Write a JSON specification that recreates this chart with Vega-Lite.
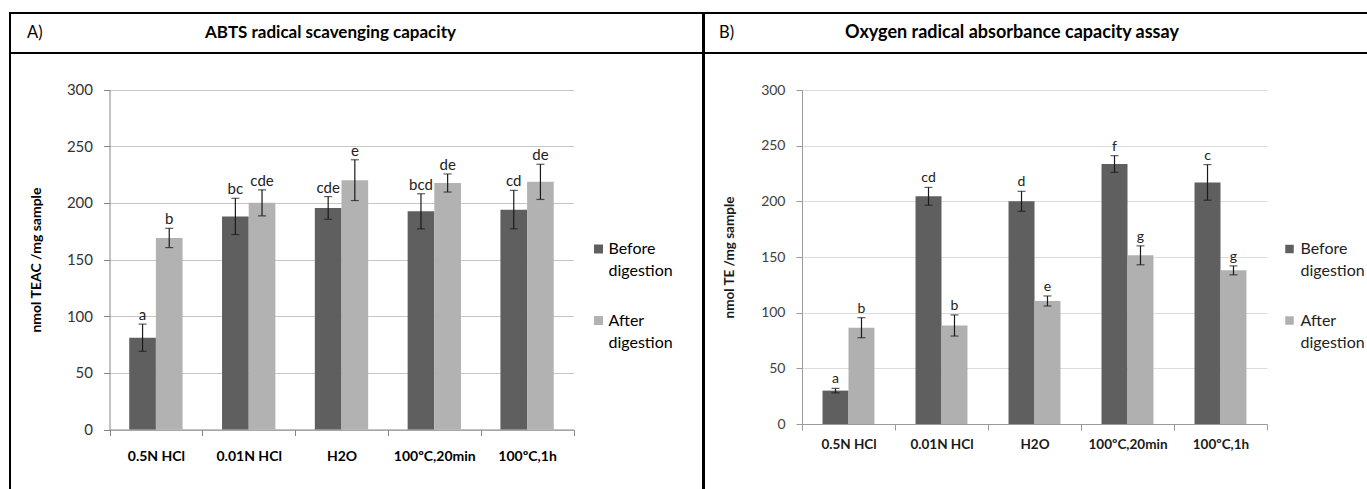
{
  "$schema": "https://vega.github.io/schema/vega-lite/v6.json",
  "padding": {"left": 9, "top": 12, "right": 0, "bottom": 0},
  "config": {
    "font": "Lato",
    "view": {"stroke": "#000000", "strokeWidth": 2},
    "axis": {"labelFont": "Lato", "titleFont": "Lato"}
  },
  "datasets": {
    "A": [
      {"cat": "0.5N HCl", "group": "Before digestion", "value": 81, "lo": 69, "hi": 93, "label": "a"},
      {"cat": "0.5N HCl", "group": "After digestion", "value": 169, "lo": 160.5, "hi": 177.5, "label": "b"},
      {"cat": "0.01N HCl", "group": "Before digestion", "value": 188, "lo": 172, "hi": 204, "label": "bc"},
      {"cat": "0.01N HCl", "group": "After digestion", "value": 200, "lo": 188.5, "hi": 211.5, "label": "cde"},
      {"cat": "H2O", "group": "Before digestion", "value": 195.5, "lo": 185.5, "hi": 205.5, "label": "cde"},
      {"cat": "H2O", "group": "After digestion", "value": 220, "lo": 202, "hi": 238, "label": "e"},
      {"cat": "100ºC,20min", "group": "Before digestion", "value": 192.5, "lo": 177, "hi": 208, "label": "bcd"},
      {"cat": "100ºC,20min", "group": "After digestion", "value": 217.5, "lo": 209.5, "hi": 225.5, "label": "de"},
      {"cat": "100ºC,1h", "group": "Before digestion", "value": 194, "lo": 177, "hi": 211, "label": "cd"},
      {"cat": "100ºC,1h", "group": "After digestion", "value": 218.5, "lo": 203, "hi": 234, "label": "de"}
    ],
    "B": [
      {"cat": "0.5N HCl", "group": "Before digestion", "value": 30, "lo": 28, "hi": 32, "label": "a"},
      {"cat": "0.5N HCl", "group": "After digestion", "value": 86.5, "lo": 77.5, "hi": 95.5, "label": "b"},
      {"cat": "0.01N HCl", "group": "Before digestion", "value": 204.5, "lo": 196.5, "hi": 212.5, "label": "cd"},
      {"cat": "0.01N HCl", "group": "After digestion", "value": 88.5, "lo": 79, "hi": 98, "label": "b"},
      {"cat": "H2O", "group": "Before digestion", "value": 200, "lo": 191, "hi": 209, "label": "d"},
      {"cat": "H2O", "group": "After digestion", "value": 110.5, "lo": 106, "hi": 115, "label": "e"},
      {"cat": "100ºC,20min", "group": "Before digestion", "value": 233.5, "lo": 226, "hi": 241, "label": "f"},
      {"cat": "100ºC,20min", "group": "After digestion", "value": 151.5, "lo": 143, "hi": 160, "label": "g"},
      {"cat": "100ºC,1h", "group": "Before digestion", "value": 217, "lo": 201, "hi": 233, "label": "c"},
      {"cat": "100ºC,1h", "group": "After digestion", "value": 138, "lo": 134, "hi": 142, "label": "g"}
    ]
  },
  "spacing": -2,
  "resolve": {
    "scale": {"color": "independent", "x": "independent", "y": "independent", "xOffset": "independent"},
    "legend": {"color": "independent"},
    "axis": {"x": "independent", "y": "independent"}
  },
  "hconcat": [
    {
      "spacing": 0,
      "bounds": "flush",
      "vconcat": [
        {
          "width": 693,
          "height": 40,
          "view": {"stroke": "#000000", "strokeWidth": 2},
          "layer": [
            {
              "data": {"values": [{"t": "ABTS radical scavenging capacity"}]},
              "mark": {"type": "text", "fontSize": 17, "fontWeight": "bold", "dx": -26, "color": "#000000"},
              "encoding": {
                "x": {"field": "t", "type": "nominal", "axis": null},
                "y": {"field": "t", "type": "nominal", "axis": null},
                "text": {"field": "t", "type": "nominal"}
              }
            },
            {
              "data": {"values": [{"t": "A)"}]},
              "mark": {"type": "text", "fontSize": 16.5, "fontWeight": "normal", "align": "left", "baseline": "middle", "dx": -329.5, "color": "#000000"},
              "encoding": {"text": {"field": "t", "type": "nominal"}}
            }
          ]
        },
        {
          "width": 693,
          "height": 460,
          "data": {"name": "A"},
          "encoding": {
            "x": {
              "field": "cat", "type": "nominal", "sort": null,
              "scale": {"range": [99.5, 563.5], "paddingInner": 0, "paddingOuter": 0},
              "axis": {"title": null, "offset": -83.5, "labelAngle": 0, "tickBand": "extent", "domainColor": "#868686", "tickColor": "#868686", "tickSize": 6, "labelPadding": 14, "labelFontSize": 14, "labelFontWeight": "bold", "labelColor": "#000000", "grid": false}
            },
            "xOffset": {"field": "group", "type": "nominal", "sort": ["Before digestion", "After digestion"], "scale": {"paddingInner": 0, "paddingOuter": 0.74}}
          },
          "layer": [
            {
              "mark": {"type": "bar"},
              "encoding": {
                "y": {
                  "field": "value", "type": "quantitative", "title": "nmol TEAC /mg sample",
                  "scale": {"domain": [0, 300], "range": [376.5, 36.5], "nice": false},
                  "axis": {"titleFontWeight": "bold", "titleFontSize": 14, "titleColor": "#000000", "titleX": -66, "offset": -99.5, "values": [0, 50, 100, 150, 200, 250, 300], "domainColor": "#868686", "tickColor": "#868686", "tickSize": 6, "labelPadding": 11, "labelFontSize": 15, "labelColor": "#333333", "gridColor": "#c6c6c6", "grid": true}
                },
                "color": {
                  "field": "group", "type": "nominal",
                  "scale": {"domain": ["Before digestion", "After digestion"], "range": ["#5f5f5f", "#b2b2b2"]},
                  "legend": {"title": null, "orient": "none", "legendX": 580.5, "legendY": 228, "symbolType": "square", "symbolSize": 81, "symbolStrokeWidth": 0, "labelFontSize": 16, "labelFontWeight": "normal", "labelColor": "#000000", "labelOffset": 2, "labelExpr": "split(datum.label, ' ')", "rowPadding": 33.5, "labelBaseline": "middle", "padding": 0, "labelLimit": 200, "encode": {"labels": {"update": {"lineHeight": {"value": 22}}}}}
                }
              }
            },
            {
              "mark": {"type": "rule", "color": "#1a1a1a", "strokeWidth": 1.2},
              "encoding": {"y": {"field": "lo", "type": "quantitative", "title": "nmol TEAC /mg sample"}, "y2": {"field": "hi"}}
            },
            {
              "mark": {"type": "tick", "orient": "horizontal", "size": 8, "thickness": 1.2, "color": "#1a1a1a"},
              "encoding": {"y": {"field": "lo", "type": "quantitative", "title": "nmol TEAC /mg sample"}}
            },
            {
              "mark": {"type": "tick", "orient": "horizontal", "size": 8, "thickness": 1.2, "color": "#1a1a1a"},
              "encoding": {"y": {"field": "hi", "type": "quantitative", "title": "nmol TEAC /mg sample"}}
            },
            {
              "mark": {"type": "text", "baseline": "alphabetic", "dy": -4, "fontSize": 15, "color": "#222222"},
              "encoding": {"y": {"field": "hi", "type": "quantitative", "title": "nmol TEAC /mg sample"}, "text": {"field": "label", "type": "nominal"}}
            }
          ]
        }
      ]
    },
    {
      "spacing": 0,
      "bounds": "flush",
      "vconcat": [
        {
          "width": 700,
          "height": 40,
          "view": {"stroke": "#000000", "strokeWidth": 2},
          "layer": [
            {
              "data": {"values": [{"t": "Oxygen radical absorbance capacity assay"}]},
              "mark": {"type": "text", "fontSize": 18, "fontWeight": "bold", "dx": -42, "color": "#000000"},
              "encoding": {
                "x": {"field": "t", "type": "nominal", "axis": null},
                "y": {"field": "t", "type": "nominal", "axis": null},
                "text": {"field": "t", "type": "nominal"}
              }
            },
            {
              "data": {"values": [{"t": "B)"}]},
              "mark": {"type": "text", "fontSize": 16.5, "fontWeight": "normal", "align": "left", "baseline": "middle", "dx": -335, "color": "#000000"},
              "encoding": {"text": {"field": "t", "type": "nominal"}}
            }
          ]
        },
        {
          "width": 700,
          "height": 460,
          "data": {"name": "B"},
          "encoding": {
            "x": {
              "field": "cat", "type": "nominal", "sort": null,
              "scale": {"range": [98, 563], "paddingInner": 0, "paddingOuter": 0},
              "axis": {"title": null, "offset": -89, "labelAngle": 0, "tickBand": "extent", "domainColor": "#9a9a9a", "tickColor": "#9a9a9a", "tickSize": 6, "labelPadding": 7, "labelFontSize": 13.5, "labelFontWeight": "bold", "labelColor": "#1a1a1a", "grid": false}
            },
            "xOffset": {"field": "group", "type": "nominal", "sort": ["Before digestion", "After digestion"], "scale": {"paddingInner": 0, "paddingOuter": 0.79}}
          },
          "layer": [
            {
              "mark": {"type": "bar"},
              "encoding": {
                "y": {
                  "field": "value", "type": "quantitative", "title": "nmol TE /mg sample",
                  "scale": {"domain": [0, 300], "range": [371, 37], "nice": false},
                  "axis": {"titleFontWeight": "bold", "titleFontSize": 13.5, "titleColor": "#1a1a1a", "titleX": -66, "offset": -98, "values": [0, 50, 100, 150, 200, 250, 300], "domainColor": "#9a9a9a", "tickColor": "#9a9a9a", "tickSize": 6, "labelPadding": 11, "labelFontSize": 14, "labelColor": "#404040", "gridColor": "#dcdcdc", "grid": true}
                },
                "color": {
                  "field": "group", "type": "nominal",
                  "scale": {"domain": ["Before digestion", "After digestion"], "range": ["#5f5f5f", "#b0b0b0"]},
                  "legend": {"title": null, "orient": "none", "legendX": 577.5, "legendY": 228, "symbolType": "square", "symbolSize": 72, "symbolStrokeWidth": 0, "labelFontSize": 16, "labelFontWeight": "normal", "labelColor": "#222222", "labelOffset": 3, "labelExpr": "split(datum.label, ' ')", "rowPadding": 33.5, "labelBaseline": "middle", "padding": 0, "labelLimit": 200, "encode": {"labels": {"update": {"lineHeight": {"value": 22}}}}}
                }
              }
            },
            {
              "mark": {"type": "rule", "color": "#1a1a1a", "strokeWidth": 1.2},
              "encoding": {"y": {"field": "lo", "type": "quantitative", "title": "nmol TE /mg sample"}, "y2": {"field": "hi"}}
            },
            {
              "mark": {"type": "tick", "orient": "horizontal", "size": 8, "thickness": 1.2, "color": "#1a1a1a"},
              "encoding": {"y": {"field": "lo", "type": "quantitative", "title": "nmol TE /mg sample"}}
            },
            {
              "mark": {"type": "tick", "orient": "horizontal", "size": 8, "thickness": 1.2, "color": "#1a1a1a"},
              "encoding": {"y": {"field": "hi", "type": "quantitative", "title": "nmol TE /mg sample"}}
            },
            {
              "mark": {"type": "text", "baseline": "alphabetic", "dy": -5, "fontSize": 14, "color": "#222222"},
              "encoding": {"y": {"field": "hi", "type": "quantitative", "title": "nmol TE /mg sample"}, "text": {"field": "label", "type": "nominal"}}
            }
          ]
        }
      ]
    }
  ]
}
